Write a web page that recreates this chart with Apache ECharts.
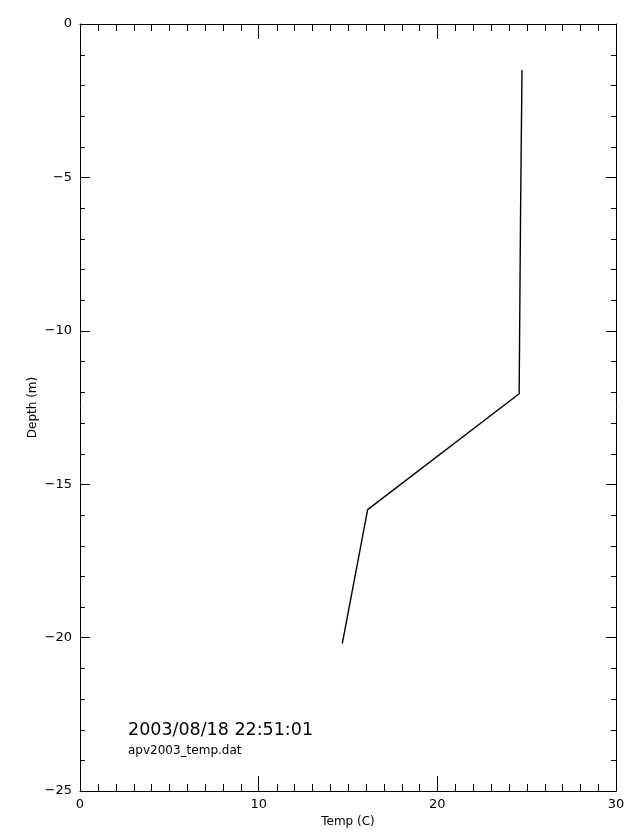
<!DOCTYPE html>
<html>
<head>
<meta charset="utf-8">
<script src="https://cdn.jsdelivr.net/npm/echarts@6/dist/echarts.min.js"></script>
<style>html,body{margin:0;padding:0;background:#fff}#c{width:640px;height:840px}</style>
</head>
<body>
<div id="c"></div>
<script>
// Temperature profile
const temps  = [24.74, 24.70, 24.66, 24.62, 24.58, 16.10, 14.68];
const depths = [-1.5, -3.7, -6.0, -9.0, -12.05, -15.83, -20.2];
const xTicks = [0, 10, 20, 30];
const yTicks = [-25, -20, -15, -10, -5, 0];
const xMinorTicks = [1,2,3,4,5,6,7,8,9,11,12,13,14,15,16,17,18,19,21,22,23,24,25,26,27,28,29];
const yMinorTicks = [-24,-23,-22,-21,-19,-18,-17,-16,-14,-13,-12,-11,-9,-8,-7,-6,-4,-3,-2,-1];
const timeStamp = '2003/08/18 22:51:01';
const fileName = 'apv2003_temp.dat';
const xTitle = 'Temp (C)';
const yTitle = 'Depth (m)';

const FONT = 'DejaVu Sans';
const fmt = v => String(v).replace('-', '\u2212');
const xMin = xTicks[0], xMax = xTicks[xTicks.length-1];
const yMin = yTicks[0], yMax = yTicks[yTicks.length-1];

const chart = echarts.init(document.getElementById('c'), null, {renderer: 'canvas'});
const axLine = {show: true, onZero: false, lineStyle: {color: '#000', width: 1}};

function xAx(pos, labels) {
  const a = {type: 'value', position: pos, min: xMin, max: xMax, interval: 10,
    axisLine: axLine, splitLine: {show: false},
    axisTick: {show: true, inside: true, length: 15, lineStyle: {color: '#000'}},
    axisLabel: labels ? {color: '#000', fontFamily: FONT, fontSize: 13, margin: 7, formatter: fmt} : {show: false}};
  if (labels) {
    a.name = xTitle; a.nameLocation = 'middle'; a.nameGap = 25; a.nameMoveOverlap = false;
    a.nameTextStyle = {color: '#000', fontFamily: FONT, fontSize: 12};
  }
  return a;
}
function yAx(pos, labels) {
  const a = {type: 'value', position: pos, min: yMin, max: yMax, interval: 5,
    axisLine: axLine, splitLine: {show: false},
    axisTick: {show: true, inside: true, length: 10, lineStyle: {color: '#000'}},
    axisLabel: labels ? {color: '#000', fontFamily: FONT, fontSize: 13, margin: 8, formatter: fmt} : {show: false}};
  if (labels) {
    a.name = yTitle; a.nameLocation = 'middle'; a.nameGap = 41; a.nameRotate = 90; a.nameMoveOverlap = false;
    a.nameTextStyle = {color: '#000', fontFamily: FONT, fontSize: 12};
  }
  return a;
}

const X_MINOR_LEN = 7, Y_MINOR_LEN = 5;
const tickStyle = {stroke: '#000', lineWidth: 1};

chart.setOption({
  animation: false,
  backgroundColor: '#fff',
  grid: {left: 80, top: 24, width: 536, height: 767, containLabel: false},
  xAxis: [xAx('bottom', true), xAx('top', false)],
  yAxis: [yAx('left', true), yAx('right', false)],
  series: [
    {
      type: 'line', xAxisIndex: 0, yAxisIndex: 0,
      data: temps.map((t, i) => [t, depths[i]]),
      showSymbol: false, symbol: 'none',
      lineStyle: {color: '#000', width: 1.4}
    },
    { // minor ticks on bottom and top edges, placed through the axis scales
      type: 'custom', xAxisIndex: 0, yAxisIndex: 0, silent: true, clip: false,
      data: xMinorTicks.map(v => [v]),
      renderItem: function (params, api) {
        const b = api.coord([api.value(0), yMin]);
        const t = api.coord([api.value(0), yMax]);
        const xb = Math.round(b[0]) + 0.5;
        return {type: 'group', children: [
          {type: 'line', shape: {x1: xb, y1: b[1], x2: xb, y2: b[1] - X_MINOR_LEN}, style: tickStyle},
          {type: 'line', shape: {x1: xb, y1: t[1], x2: xb, y2: t[1] + X_MINOR_LEN}, style: tickStyle}
        ]};
      }
    },
    { // minor ticks on left and right edges
      type: 'custom', xAxisIndex: 0, yAxisIndex: 0, silent: true, clip: false,
      data: yMinorTicks.map(v => [v]),
      renderItem: function (params, api) {
        const l = api.coord([xMin, api.value(0)]);
        const r = api.coord([xMax, api.value(0)]);
        const yy = Math.round(l[1]) + 0.5;
        return {type: 'group', children: [
          {type: 'line', shape: {x1: l[0], y1: yy, x2: l[0] + Y_MINOR_LEN, y2: yy}, style: tickStyle},
          {type: 'line', shape: {x1: r[0], y1: yy, x2: r[0] - Y_MINOR_LEN, y2: yy}, style: tickStyle}
        ]};
      }
    }
  ],
  graphic: [
    {type: 'text', left: 128, top: 721, style: {text: timeStamp, fill: '#000', font: '17.5px "DejaVu Sans"'}},
    {type: 'text', left: 128, top: 745, style: {text: fileName, fill: '#000', font: '12px "DejaVu Sans"'}}
  ]
});
</script>
</body>
</html>
